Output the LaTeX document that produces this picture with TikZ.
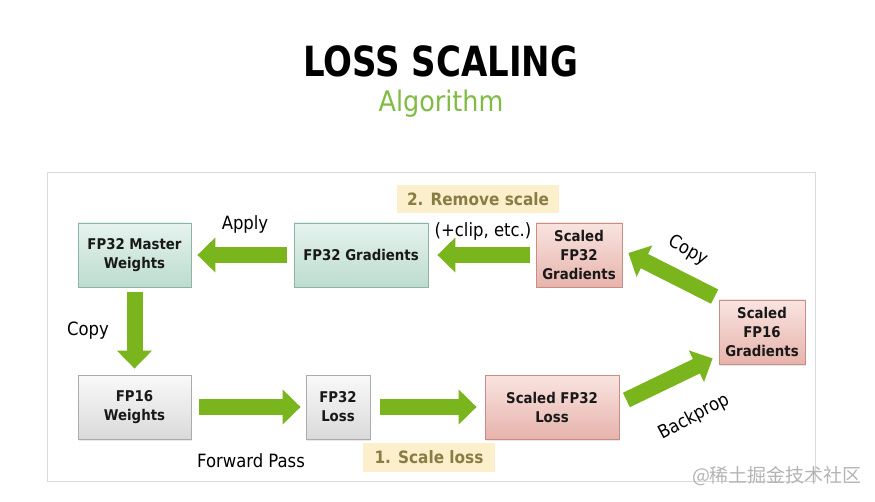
\documentclass[tikz,border=0pt]{standalone}
\usepackage{fontspec}
\setmainfont{DejaVu Sans Condensed}
\newfontfamily\cjk{Noto Sans CJK SC}
\usetikzlibrary{arrows.meta,calc,shadows}
\definecolor{arrgreen}{HTML}{7AB51D}
\definecolor{titlegreen}{HTML}{80BB44}
\definecolor{tealtop}{HTML}{E6F3EE}
\definecolor{tealbot}{HTML}{BCDCCF}
\definecolor{tealborder}{HTML}{8CB5A6}
\definecolor{pinktop}{HTML}{F9E4E0}
\definecolor{pinkbot}{HTML}{E7B3AC}
\definecolor{pinkborder}{HTML}{C98D85}
\definecolor{graytop}{HTML}{F9F9F9}
\definecolor{graybot}{HTML}{DADADA}
\definecolor{grayborder}{HTML}{ABABAB}
\definecolor{hlbg}{HTML}{FCEFCB}
\definecolor{hltext}{HTML}{8A7C45}
\definecolor{framegray}{HTML}{DADADA}
\definecolor{wmgray}{HTML}{B4B4B4}
\tikzset{
  box/.style={draw, line width=0.8pt, minimum height=64pt, align=center,
    inner sep=1pt, text=black!90,
    font=\fontsize{14.8}{19}\selectfont\bfseries,
    drop shadow={opacity=0.18, shadow xshift=1pt, shadow yshift=-1.5pt}},
  tealbox/.style={box, draw=tealborder, top color=tealtop, bottom color=tealbot},
  pinkbox/.style={box, draw=pinkborder, top color=pinktop, bottom color=pinkbot},
  graybox/.style={box, draw=grayborder, top color=graytop, bottom color=graybot},
  bigarrow/.style={draw=arrgreen, line width=16pt,
    -{Triangle[length=18pt,width=34pt]}},
  lbl/.style={inner sep=0pt, font=\fontsize{18.3}{20}\selectfont},
  hl/.style={fill=hlbg, text=hltext, inner sep=0pt,
    font=\fontsize{17}{20}\selectfont\bfseries},
}
\begin{document}
\begin{tikzpicture}[x=1pt,y=-1pt]
\useasboundingbox[fill=white] (0,0) rectangle (875,502);
% title
\node[inner sep=0pt, font=\fontsize{37.8}{40}\selectfont\bfseries] (title) at (441,61) {\scalebox{1}[1.1]{LOSS SCALING}};
\node[inner sep=0pt, text=titlegreen, font=\fontsize{28.3}{30}\selectfont] (subtitle) at (441,104) {Algorithm};
% frame
\draw[framegray, line width=0.8pt] (47,172) rectangle (815,481);
% boxes
\node[tealbox, minimum width=113pt] (master) at (134.5,255) {FP32 Master\\Weights};
\node[tealbox, minimum width=134pt] (grad) at (361,255) {FP32 Gradients};
\node[pinkbox, minimum width=86pt] (sgrad) at (579,255) {Scaled\\FP32\\Gradients};
\node[pinkbox, minimum width=86pt] (s16) at (762,332) {Scaled\\FP16\\Gradients};
\node[graybox, minimum width=113pt] (fp16) at (134.5,407) {FP16\\Weights};
\node[graybox, minimum width=64pt] (loss32) at (338,407) {FP32\\Loss};
\node[pinkbox, minimum width=134pt] (sloss) at (552,407) {Scaled FP32\\Loss};
% arrows
\draw[bigarrow, shorten <=7pt, shorten >=6pt] (grad.west) -- (master.east);
\draw[bigarrow, shorten <=6pt, shorten >=9pt] (sgrad.west) -- (grad.east);
\draw[bigarrow, shorten <=5pt, shorten >=6pt] (master.south) -- (fp16.north);
\draw[bigarrow, shorten <=8pt, shorten >=5pt] (fp16.east) -- (loss32.west);
\draw[bigarrow, shorten <=10pt, shorten >=8pt] (loss32.east) -- (sloss.west);
\draw[bigarrow] ($(sloss.east)+(7,-7)$) -- ($(s16.south west)+(-6,-6)$);
\draw[bigarrow] ($(s16.north west)+(-4,-3)$) -- ($(sgrad.east)+(6,-2)$);
% labels
\node[lbl] (applyl) at (245,224.5) {Apply};
\node[lbl] (copyl) at (88,331) {Copy};
\node[lbl] (fwdl) at (251,460.5) {Forward Pass};
\node[lbl] (clipl) at (483,231) {(+clip, etc.)};
\node[lbl, rotate=-30] (copy2l) at (688,251) {Copy};
\node[lbl, rotate=28] (bpl) at (694,417) {Backprop};
\node[hl, minimum width=162pt, minimum height=28pt] (remove) at (478,199) {2. Remove scale};
\node[hl, minimum width=132pt, minimum height=29pt] (scalel) at (429,457.5) {1. Scale loss};
% watermark
\node[inner sep=0pt, text=wmgray, font=\cjk\fontsize{19}{20}\selectfont] (wm) at (777,476) {@稀土掘金技术社区};
\end{tikzpicture}
\end{document}
